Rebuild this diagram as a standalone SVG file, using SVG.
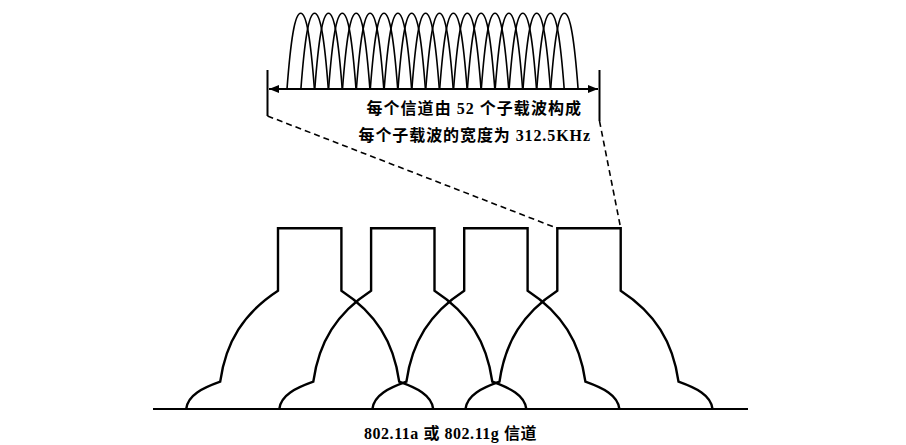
<svg xmlns="http://www.w3.org/2000/svg" xmlns:xlink="http://www.w3.org/1999/xlink" width="906" height="445" viewBox="0 0 906 445">
<style>
.ch{fill:none;stroke:#000;stroke-width:2.4;stroke-linejoin:miter}
.lobe{fill:none;stroke:#000;stroke-width:1.6}
.dim{fill:none;stroke:#000;stroke-width:2}
.dash{fill:none;stroke:#000;stroke-width:1.6;stroke-dasharray:6 4}
.txt{font-family:"Liberation Serif","Noto Sans CJK SC",serif;font-weight:bold;fill:#000}
</style>
<defs>
<path id="chp" class="ch" d="M-123.5,409 C-122,395 -107,388 -89.5,381.7 C-84,342 -66,313 -31.7,290.7 L-31.7,228.3 L31.7,228.3 L31.7,290.7 C66,313 84,342 89.5,381.7 C107,388 122,395 123.5,409"/>
<path id="lobe" class="lobe" d="M-13.7,89 C-10,40 -6,13.3 0,13.3 C6,13.3 10,40 13.7,89"/>
<marker id="arr" viewBox="0 0 10 8" refX="10" refY="4" markerWidth="10" markerHeight="8" markerUnits="userSpaceOnUse" orient="auto-start-reverse">
<path d="M0,0 L10,4 L0,8 Z" fill="#000"/>
</marker>
</defs>
<rect width="906" height="445" fill="#fff"/>
<g id="subcarriers">
<use xlink:href="#lobe" x="300.7"/><use xlink:href="#lobe" x="314.6"/><use xlink:href="#lobe" x="328.5"/><use xlink:href="#lobe" x="342.3"/><use xlink:href="#lobe" x="356.2"/>
<use xlink:href="#lobe" x="370.1"/><use xlink:href="#lobe" x="384.0"/><use xlink:href="#lobe" x="397.9"/><use xlink:href="#lobe" x="411.7"/><use xlink:href="#lobe" x="425.6"/>
<use xlink:href="#lobe" x="439.5"/><use xlink:href="#lobe" x="453.4"/><use xlink:href="#lobe" x="467.3"/><use xlink:href="#lobe" x="481.1"/><use xlink:href="#lobe" x="495.0"/>
<use xlink:href="#lobe" x="508.9"/><use xlink:href="#lobe" x="522.8"/><use xlink:href="#lobe" x="536.7"/><use xlink:href="#lobe" x="550.5"/><use xlink:href="#lobe" x="564.4"/>
</g>
<g id="dimension">
<line class="dim" x1="267.5" y1="70" x2="267.5" y2="116"/>
<line class="dim" x1="599.5" y1="70" x2="599.5" y2="121"/>
<line class="dim" x1="269" y1="89" x2="598" y2="89" marker-start="url(#arr)" marker-end="url(#arr)"/>
</g>
<g id="label-top">
<text class="txt" x="366.5" y="114" font-size="16" textLength="214.5" lengthAdjust="spacing">每个信道由 52 个子载波构成</text>
<text class="txt" x="358.5" y="141" font-size="16" textLength="231.5" lengthAdjust="spacing">每个子载波的宽度为 312.5KHz</text>
</g>
<g id="connectors">
<line class="dash" x1="267.5" y1="116" x2="557.3" y2="228.3"/>
<line class="dash" x1="599.5" y1="121" x2="620.7" y2="228.3"/>
</g>
<g id="baseline">
<line x1="153" y1="409" x2="748" y2="409" stroke="#000" stroke-width="1.8"/>
</g>
<g id="ch1"><use xlink:href="#chp" x="309.7"/></g>
<g id="ch2"><use xlink:href="#chp" x="402.8"/></g>
<g id="ch3"><use xlink:href="#chp" x="495.9"/></g>
<g id="ch4"><use xlink:href="#chp" x="589.0"/></g>
<g id="label-bottom">
<text class="txt" x="364" y="439" font-size="16" textLength="172.5" lengthAdjust="spacing">802.11a 或 802.11g 信道</text>
</g>
</svg>
